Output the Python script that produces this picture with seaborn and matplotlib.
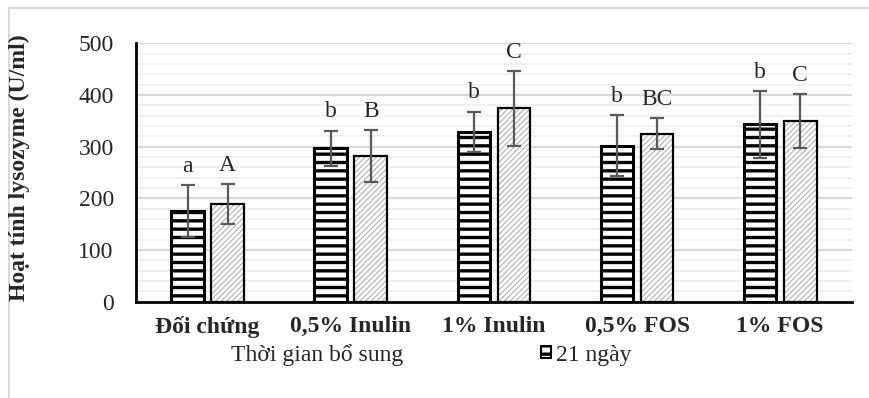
import numpy as np
import pandas as pd
import seaborn as sns
import matplotlib.pyplot as plt
from matplotlib.patches import Patch, Rectangle
from matplotlib.ticker import MultipleLocator

# data
groups = ['Đối chứng', '0,5% Inulin', '1% Inulin', '0,5% FOS', '1% FOS']
day21 = [176, 297, 329, 302, 343]
day21_sd = [50, 34, 39, 59, 64]
day21_letters = ['a', 'b', 'b', 'b', 'b']
day42 = [189, 282, 374, 325, 350]
day42_sd = [39, 50, 72, 30, 52]
day42_letters = ['A', 'B', 'C', 'BC', 'C']
series = ['21 ngày', '42 ngày']

FS = 17

sns.set_style('white')
plt.rcParams['font.family'] = ['Liberation Serif', 'DejaVu Serif']
plt.rcParams['hatch.linewidth'] = 2.4

df = pd.DataFrame({
    'group': groups * 2,
    'value': day21 + day42,
    'series': [series[0]] * len(groups) + [series[1]] * len(groups),
})

fig = plt.figure(figsize=(8.7, 3.98), dpi=100)
ax = fig.add_axes([0.1563, 0.242, 0.8227, 0.649])

sns.barplot(data=df, x='group', y='value', hue='series', order=groups,
            hue_order=series, width=0.56, gap=0.186, errorbar=None,
            palette=['white', 'white'], legend=False, ax=ax)

n = len(groups)
bars1 = ax.patches[:n]
bars2 = ax.patches[n:2 * n]

for b in bars1:
    b.set_hatch('--')
    b.set_edgecolor('black')
    b.set_linewidth(2.2)
    b.set_zorder(3)

for b in bars2:
    b.set_hatch('//////')
    b.set_edgecolor('#a8a8a8')
    b.set_linewidth(0)
    b.set_zorder(3)
    b._hatch_linewidth = 0.7
    # separate outline so the hatch can stay gray
    ax.add_patch(Rectangle(b.get_xy(), b.get_width(), b.get_height(),
                           fill=False, edgecolor='black', linewidth=1.6,
                           zorder=4))

for bars, vals, sds, letters in [(bars1, day21, day21_sd, day21_letters),
                                 (bars2, day42, day42_sd, day42_letters)]:
    xs = [b.get_x() + b.get_width() / 2 for b in bars]
    ax.errorbar(xs, vals, yerr=sds, fmt='none', ecolor='#595959',
                elinewidth=1.6, capsize=5, capthick=1.6, zorder=5)
    for x, v, s, t in zip(xs, vals, sds, letters):
        ax.text(x, v + s + 16, t, ha='center', va='bottom', fontsize=FS)

ax.set_ylim(0, 500)
ax.set_xlim(-0.5, n - 0.5)
ax.yaxis.set_major_locator(MultipleLocator(100))
ax.yaxis.set_minor_locator(MultipleLocator(20))
ax.grid(axis='y', which='major', color='#d9d9d9', linewidth=1.6, zorder=0)
ax.grid(axis='y', which='minor', color='#f0f0f0', linewidth=1.4, zorder=0)
ax.set_axisbelow(True)

for side in ['top', 'right']:
    ax.spines[side].set_visible(False)
for side in ['left', 'bottom']:
    ax.spines[side].set_color('black')
    ax.spines[side].set_linewidth(2)

ax.tick_params(axis='y', length=0, pad=16, labelsize=FS)
ax.tick_params(axis='x', length=0, pad=10, labelsize=FS)
for lbl in ax.get_xticklabels():
    lbl.set_fontweight('bold')

ax.set_xlabel('')
ax.set_ylabel('')
fig.text(19 / 870, 1 - 168 / 398, 'Hoạt tính lysozyme (U/ml)', rotation=90,
         ha='center', va='center', fontsize=FS, fontweight='bold')

fig.text(317 / 870, 1 - 355 / 398, 'Thời gian bổ sung', ha='center',
         va='center', fontsize=FS)

handle = Patch(facecolor='white', edgecolor='black', hatch='--', linewidth=1.5)
fig.legend(handles=[handle], labels=[series[0]], loc='center left',
           bbox_to_anchor=(529 / 870, 1 - 355 / 398), frameon=False,
           fontsize=FS, borderpad=0, handlelength=0.45, handleheight=0.45,
           handletextpad=0.2)

# chart frame (cropped on the right and bottom)
fig.patches.append(Rectangle((9 / 870, -0.1), 1.2, 1 - 8 / 398 + 0.1,
                             transform=fig.transFigure, fill=False,
                             edgecolor='#d9d9d9', linewidth=1.5))

fig.savefig('out.png', dpi=100)
